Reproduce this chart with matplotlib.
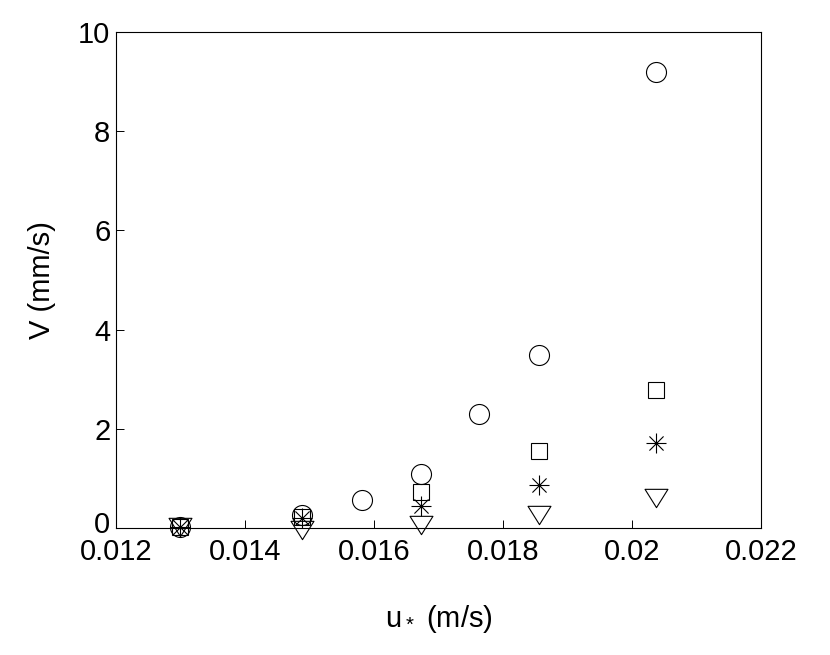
import matplotlib
matplotlib.use("Agg")
import matplotlib.pyplot as plt
from matplotlib.path import Path
from matplotlib.transforms import ScaledTranslation

plt.rcParams['font.family'] = ['Liberation Sans', 'DejaVu Sans']
plt.rcParams['mathtext.default'] = 'regular'

# friction velocity (m/s)
u_circ = [0.01299, 0.01488, 0.01581, 0.01673, 0.01763, 0.01856, 0.02037]
v_circ = [0.03, 0.26, 0.56, 1.09, 2.30, 3.49, 9.20]

u_other = [0.01299, 0.01488, 0.01673, 0.01856, 0.02037]
v_sq = [0.03, 0.22, 0.73, 1.55, 2.78]
v_star = [0.03, 0.20, 0.45, 0.87, 1.71]
v_tri = [0.03, -0.04, 0.07, 0.27, 0.60]

xticks = [0.012, 0.014, 0.016, 0.018, 0.02, 0.022]
xticklabels = ['0.012', '0.014', '0.016', '0.018', '0.02', '0.022']
yticks = [0, 2, 4, 6, 8, 10]

# matlab style asterisk (+ and x together)
star = Path([(-1, 0), (1, 0), (0, -1), (0, 1),
             (-0.707, -0.707), (0.707, 0.707), (-0.707, 0.707), (0.707, -0.707)],
            [Path.MOVETO, Path.LINETO] * 4)
# matlab style down triangle, wider than tall
tri = Path([(-1, 0.8), (1, 0.8), (0, -0.8), (-1, 0.8)],
           [Path.MOVETO, Path.LINETO, Path.LINETO, Path.CLOSEPOLY])

fig = plt.figure(figsize=(8.3, 6.55), dpi=100)
ax = fig.add_axes([0.1398, 0.1939, 0.7771, 0.7573])

kw = dict(linestyle='none', color='k', mfc='none', mew=0.8, clip_on=False)
ax.plot(u_circ, v_circ, marker='o', ms=14.4, **kw)
ax.plot(u_other, v_sq, marker='s', ms=11.0, **kw)
ax.plot(u_other, v_star, marker=star, ms=14.4, **kw)
ax.plot(u_other, v_tri, marker=tri, ms=16.5, **kw)

ax.set_xlim(0.012, 0.022)
ax.set_ylim(0, 10)
ax.set_xticks(xticks)
ax.set_xticklabels(xticklabels)
ax.set_yticks(yticks)
ax.tick_params(direction='in', length=6, width=0.7, labelsize=21, pad=7)
ax.tick_params(axis='y', pad=4)
for s in ax.spines.values():
    s.set_linewidth(0.8)

# lift the y "0" a little so it sits above 0.012 like the original
lbl0 = ax.get_yticklabels()[0]
lbl0.set_transform(lbl0.get_transform() + ScaledTranslation(0, 4 / 72, fig.dpi_scale_trans))

ax.set_xlabel(r'u$_*$ (m/s)', fontsize=21, labelpad=27)
ax.set_ylabel('V (mm/s)', fontsize=21, labelpad=16)

fig.savefig('out.png', dpi=100)
